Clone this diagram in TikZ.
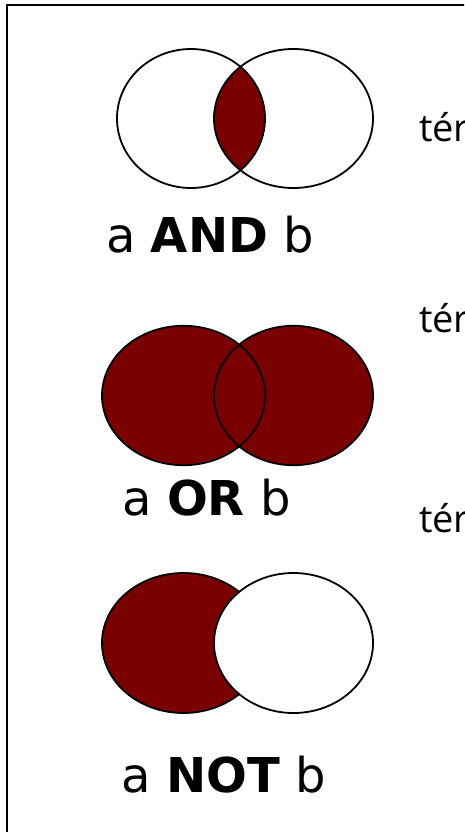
\documentclass[tikz,border=0pt]{standalone}
\usepackage{fontspec}
\setmainfont{DejaVu Sans}
\newfontfamily\termfont{Open Sans}
\usepackage{tikz}
\definecolor{vennred}{RGB}{122,0,0}
\tikzstyle{venn} = [draw=black, line width=1.8pt]
\tikzstyle{oplabel} = [anchor=base, inner sep=0pt, font=\fontsize{48}{58}\selectfont]
\tikzstyle{termlabel} = [anchor=base west, inner sep=0pt, font=\termfont\fontsize{38}{46}\selectfont]

\begin{document}
\begin{tikzpicture}[x=1pt, y=-1pt]
    \useasboundingbox (0,0) rectangle (464,832);
    \clip (0,0) rectangle (464,832);
    \draw[line width=2pt] (6.5,5) rectangle (490,860);
    % a AND b
    \begin{scope}
      \clip (191,118.5) ellipse (74pt and 69.5pt);
      \fill[vennred] (293.5,118.5) ellipse (79.5pt and 69.5pt);
    \end{scope}
    \draw[venn] (191,118.5) ellipse (74pt and 69.5pt);
    \draw[venn] (293.5,118.5) ellipse (79.5pt and 69.5pt);
    \node[oplabel] (andlbl) at (210,252) {a \textbf{AND} b};
    % a OR b
    \fill[vennred] (183.5,395.5) ellipse (81.5pt and 69.7pt);
    \fill[vennred] (293.5,395.5) ellipse (79.5pt and 69.7pt);
    \draw[venn] (183.5,395.5) ellipse (81.5pt and 69.7pt);
    \draw[venn] (293.5,395.5) ellipse (79.5pt and 69.7pt);
    \node[oplabel] (orlbl) at (206.5,515) {a \textbf{OR} b};
    % a NOT b
    \draw[venn, fill=vennred] (183.5,643) ellipse (81.5pt and 70pt);
    \draw[venn, fill=white] (293.5,643) ellipse (79.5pt and 70pt);
    \node[oplabel] (notlbl) at (224,792) {a \textbf{NOT} b};
    % terms, cut at the right edge
    \node[termlabel] (term1) at (419,142) {tér};
    \node[termlabel] (term2) at (419,332) {tér};
    \node[termlabel] (term3) at (419,532) {tér};
\end{tikzpicture}
\end{document}
